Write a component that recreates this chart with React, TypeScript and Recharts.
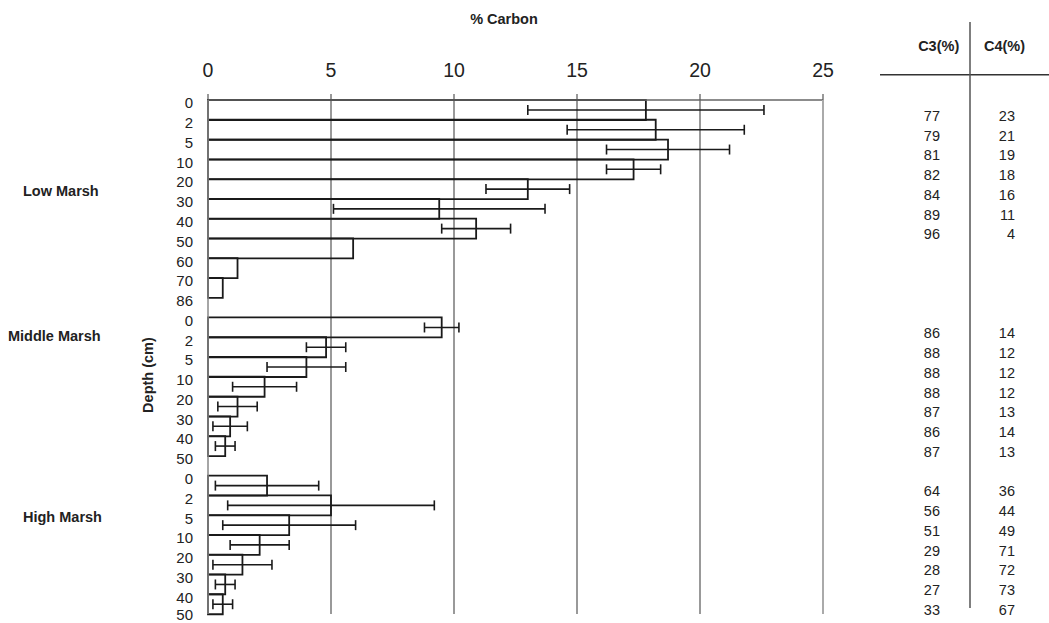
import React from 'react';
import { BarChart, Bar, XAxis, YAxis, CartesianGrid, ErrorBar } from 'recharts';

// ---- data ----
const lowDepths = ['0', '2', '5', '10', '20', '30', '40', '50', '60', '70'];
const lowCarbon = [17.8, 18.2, 18.7, 17.3, 13.0, 9.4, 10.9, 5.9, 1.2, 0.6];
const lowError = [4.8, 3.6, 2.5, 1.1, 1.7, 4.3, 1.4, null, null, null];
const lowEndLabel = '86';
const lowC3 = [77, 79, 81, 82, 84, 89, 96];
const lowC4 = [23, 21, 19, 18, 16, 11, 4];

const middleDepths = ['0', '2', '5', '10', '20', '30', '40'];
const middleCarbon = [9.5, 4.8, 4.0, 2.3, 1.2, 0.9, 0.7];
const middleError = [0.7, 0.8, 1.6, 1.3, 0.8, 0.7, 0.4];
const middleEndLabel = '50';
const middleC3 = [86, 88, 88, 88, 87, 86, 87];
const middleC4 = [14, 12, 12, 12, 13, 14, 13];

const highDepths = ['0', '2', '5', '10', '20', '30', '40'];
const highCarbon = [2.4, 5.0, 3.3, 2.1, 1.4, 0.7, 0.6];
const highError = [2.1, 4.2, 2.7, 1.2, 1.2, 0.4, 0.4];
const highEndLabel = '50';
const highC3 = [64, 56, 51, 29, 28, 27, 33];
const highC4 = [36, 44, 49, 71, 72, 73, 67];

const xTicks = [0, 5, 10, 15, 20, 25];
const gridValues = [5, 10, 15, 20];
const groupNames = ['Low Marsh', 'Middle Marsh', 'High Marsh'];
const xTitle = '% Carbon';
const yTitle = 'Depth (cm)';
const tableHeaders = ['C3(%)', 'C4(%)'];

type Row = {
  key: string;
  label: string;
  bottomLabel?: string;
  carbon: number | null;
  err: number | null;
  c3: number | null;
  c4: number | null;
};

function buildGroup(
  prefix: string,
  depths: string[],
  carbon: number[],
  err: (number | null)[],
  c3: number[],
  c4: number[]
): Row[] {
  return depths.map((d, i) => ({
    key: `${prefix}-${i}`,
    label: d,
    carbon: carbon[i],
    err: err[i],
    c3: i < c3.length ? c3[i] : null,
    c4: i < c4.length ? c4[i] : null,
  }));
}

const rows: Row[] = [
  ...buildGroup('L', lowDepths, lowCarbon, lowError, lowC3, lowC4),
  { key: 'L-end', label: lowEndLabel, carbon: null, err: null, c3: null, c4: null },
  ...buildGroup('M', middleDepths, middleCarbon, middleError, middleC3, middleC4),
  { key: 'M-end', label: middleEndLabel, carbon: null, err: null, c3: null, c4: null },
  ...buildGroup('H', highDepths, highCarbon, highError, highC3, highC4),
];
rows[rows.length - 1].bottomLabel = highEndLabel;

const rowByKey: Record<string, Row> = {};
rows.forEach((r) => (rowByKey[r.key] = r));

// ---- layout ----
const W = 1049;
const H = 623;
const PLOT_TOP = 100;
const PLOT_BOTTOM = 614;
const HALF_BAND = (PLOT_BOTTOM - PLOT_TOP) / rows.length / 2;
const FONT = '"Liberation Sans", Arial, Helvetica, sans-serif';
const INK = '#222';

const DepthTick = (props: any) => {
  const { x, y, payload } = props;
  const row = rowByKey[payload.value];
  if (!row) return null;
  const half = typeof payload.offset === 'number' && payload.offset > 0 ? payload.offset : HALF_BAND;
  return (
    <g>
      <text x={x} y={y - half + 3} dy="0.36em" textAnchor="end" fontSize={15} fill={INK}>
        {row.label}
      </text>
      {row.bottomLabel ? (
        <text x={x} y={y + half + 1} dy="0.36em" textAnchor="end" fontSize={15} fill={INK}>
          {row.bottomLabel}
        </text>
      ) : null}
    </g>
  );
};

const TableTick = (props: any) => {
  const { y, payload } = props;
  const row = rowByKey[payload.value];
  if (!row || row.c3 == null) return null;
  return (
    <g>
      <text x={940} y={y + 5.7} dy="0.36em" textAnchor="end" fontSize={14.5} fill={INK}>
        {row.c3}
      </text>
      <text x={1015} y={y + 5.7} dy="0.36em" textAnchor="end" fontSize={14.5} fill={INK}>
        {row.c4}
      </text>
    </g>
  );
};

export default function App() {
  return (
    <div style={{ position: 'absolute', left: 0, top: 0, width: W, height: H, background: '#fff', fontFamily: FONT }}>
      <BarChart
        width={W}
        height={H}
        data={rows}
        layout="vertical"
        margin={{ top: 40, right: 0, bottom: 9, left: 148 }}
        barCategoryGap={0}
      >
        <CartesianGrid
          xAxisId="top"
          yAxisId="left"
          horizontal={false}
          vertical
          verticalValues={gridValues}
          stroke="#555"
          strokeWidth={1.2}
        />
        <XAxis
          xAxisId="top"
          type="number"
          orientation="top"
          domain={[0, 25]}
          ticks={xTicks}
          height={60}
          tickSize={6}
          tickMargin={17}
          tick={{ fontSize: 19.5, fill: INK }}
          tickLine={{ stroke: '#555', strokeWidth: 1.2 }}
          axisLine={{ stroke: '#666', strokeWidth: 1.5 }}
        />
        <XAxis
          xAxisId="bottom"
          type="number"
          orientation="bottom"
          domain={[0, 25]}
          height={0}
          tick={false}
          tickLine={false}
          axisLine={{ stroke: '#aaa', strokeWidth: 2 }}
        />
        <YAxis
          yAxisId="left"
          type="category"
          dataKey="key"
          width={60}
          interval={0}
          tickLine={false}
          tickSize={0}
          tickMargin={15}
          axisLine={{ stroke: '#888', strokeWidth: 1.5 }}
          tick={<DepthTick />}
        />
        <YAxis
          yAxisId="right"
          orientation="right"
          type="category"
          dataKey="key"
          width={226}
          interval={0}
          tickLine={false}
          axisLine={{ stroke: '#aaa', strokeWidth: 2 }}
          tick={<TableTick />}
        />
        <Bar
          xAxisId="top"
          yAxisId="left"
          dataKey="carbon"
          fill="none"
          stroke="#1a1a1a"
          strokeWidth={1.8}
          isAnimationActive={false}
        >
          <ErrorBar dataKey="err" direction="x" width={5} stroke="#1a1a1a" strokeWidth={1.6} isAnimationActive={false} />
        </Bar>
      </BarChart>
      <svg
        width={W}
        height={H}
        style={{ position: 'absolute', left: 0, top: 0, pointerEvents: 'none', fontFamily: FONT }}
      >
        <text x={504} y={19} dy="0.35em" textAnchor="middle" fontSize={14.5} fontWeight="bold" fill={INK}>
          {xTitle}
        </text>
        <text x={938.7} y={45.5} dy="0.35em" textAnchor="middle" fontSize={14.5} fontWeight="bold" fill={INK}>
          {tableHeaders[0]}
        </text>
        <text x={1004.5} y={45.5} dy="0.35em" textAnchor="middle" fontSize={14.5} fontWeight="bold" fill={INK}>
          {tableHeaders[1]}
        </text>
        <line x1={880} y1={74.7} x2={1049} y2={74.7} stroke="#333" strokeWidth={1.5} />
        <line x1={970} y1={22} x2={970} y2={608} stroke="#555" strokeWidth={1.5} />
        <text x={23} y={190.7} dy="0.35em" fontSize={14.5} fontWeight="bold" fill={INK}>
          {groupNames[0]}
        </text>
        <text x={8} y={335.7} dy="0.35em" fontSize={14.5} fontWeight="bold" fill={INK}>
          {groupNames[1]}
        </text>
        <text x={23} y={516.7} dy="0.35em" fontSize={14.5} fontWeight="bold" fill={INK}>
          {groupNames[2]}
        </text>
        <text
          x={148}
          y={375}
          dy="0.35em"
          textAnchor="middle"
          fontSize={14.5}
          fontWeight="bold"
          fill={INK}
          transform="rotate(-90 148 375)"
        >
          {yTitle}
        </text>
      </svg>
    </div>
  );
}
